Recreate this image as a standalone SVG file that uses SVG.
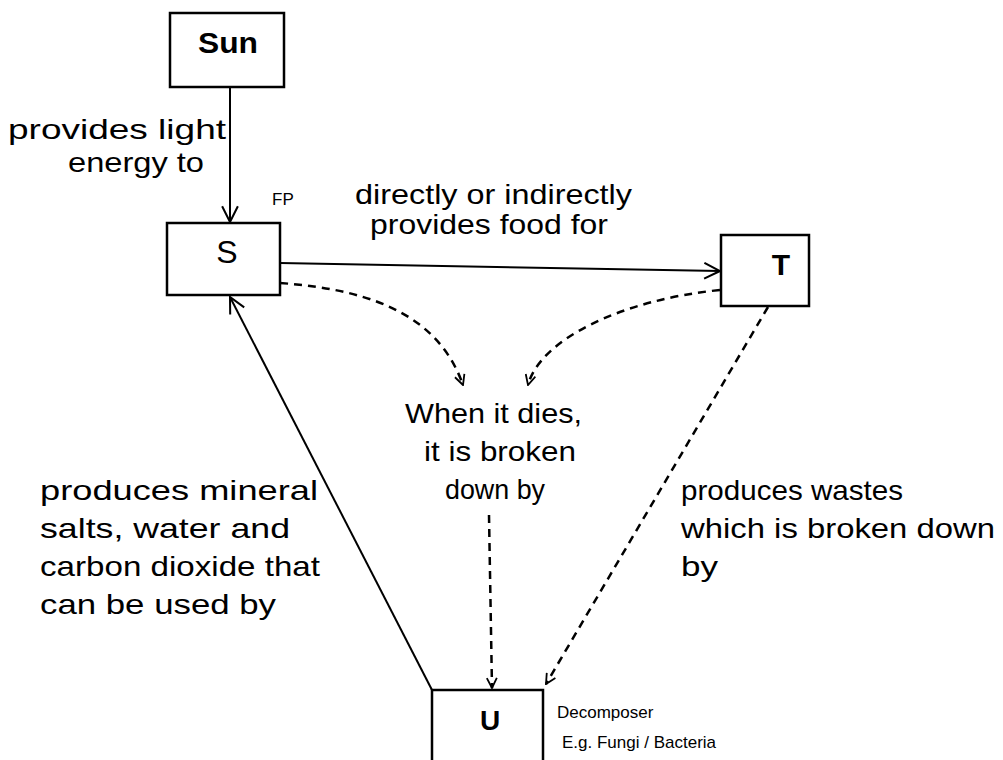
<svg xmlns="http://www.w3.org/2000/svg" width="1003" height="760" viewBox="0 0 1003 760">
<defs>
<style>
.box{fill:#fff;stroke:#000;stroke-width:2.5}
.lbl{font-family:"Liberation Sans",Arial,sans-serif;font-size:28px;fill:#000}
.nm{font-family:"Liberation Sans",Arial,sans-serif;font-weight:bold;fill:#000;text-anchor:middle}
.hw{font-family:"Liberation Sans",Arial,sans-serif;font-size:17px;fill:#000}
.ln{fill:none;stroke:#000;stroke-width:2}
.dash{fill:none;stroke:#000;stroke-width:2.5;stroke-dasharray:8,6}
</style>
<marker id="arr" viewBox="0 0 12 12" refX="11" refY="6" markerWidth="12" markerHeight="12" markerUnits="userSpaceOnUse" orient="auto">
<path d="M1,1 L11,6 L1,11" fill="none" stroke="#000" stroke-width="1.8"/>
</marker>
<marker id="arrL" viewBox="0 0 16 16" refX="15" refY="8" markerWidth="18" markerHeight="18" markerUnits="userSpaceOnUse" orient="auto">
<path d="M1,1 L15,8 L1,15" fill="none" stroke="#000" stroke-width="1.8"/>
</marker>
</defs>
<g id="connectors">
<line class="ln" x1="230" y1="87" x2="230" y2="222" marker-end="url(#arrL)"/>
<line class="ln" x1="280" y1="263" x2="720" y2="271" marker-end="url(#arrL)"/>
<path class="dash" d="M280,283 C380,290 440,320 463,385" marker-end="url(#arr)"/>
<path class="dash" d="M720,290 C620,300 540,340 528,385" marker-end="url(#arr)"/>
<path class="dash" d="M489,515 L492,688" marker-end="url(#arr)"/>
<path class="dash" d="M768,307 L546,684" marker-end="url(#arr)"/>
<line class="ln" x1="432" y1="690" x2="230" y2="297" marker-end="url(#arrL)"/>
</g>
<g id="sun"><rect class="box" x="170" y="13" width="114" height="74"/><text class="nm" x="228" y="53" font-size="29" textLength="60" lengthAdjust="spacingAndGlyphs">Sun</text></g>
<g id="s"><rect class="box" x="167" y="223" width="113" height="72"/><text class="nm" x="227" y="263" font-size="32" style="font-weight:normal">S</text></g>
<g id="t"><rect class="box" x="721" y="235" width="88" height="71"/><text class="nm" x="781" y="275" font-size="30">T</text></g>
<g id="u"><rect class="box" x="432" y="690" width="111" height="90"/><text class="nm" x="490" y="730" font-size="28">U</text></g>
<g id="labels">
<text class="lbl" x="8" y="139" textLength="218" lengthAdjust="spacingAndGlyphs">provides light</text>
<text class="lbl" x="68" y="172" textLength="136" lengthAdjust="spacingAndGlyphs">energy to</text>
<text class="hw" x="272" y="205">FP</text>
<text class="lbl" x="355" y="204" textLength="277" lengthAdjust="spacingAndGlyphs">directly or indirectly</text>
<text class="lbl" x="370" y="234" textLength="238" lengthAdjust="spacingAndGlyphs">provides food for</text>
<text class="lbl" x="405" y="423" textLength="177" lengthAdjust="spacingAndGlyphs">When it dies,</text>
<text class="lbl" x="424" y="461" textLength="152" lengthAdjust="spacingAndGlyphs">it is broken</text>
<text class="lbl" x="445" y="499" textLength="100" lengthAdjust="spacingAndGlyphs">down by</text>
<text class="lbl" x="40" y="500" textLength="278" lengthAdjust="spacingAndGlyphs">produces mineral</text>
<text class="lbl" x="40" y="538" textLength="250" lengthAdjust="spacingAndGlyphs">salts, water and</text>
<text class="lbl" x="40" y="576" textLength="280" lengthAdjust="spacingAndGlyphs">carbon dioxide that</text>
<text class="lbl" x="40" y="614" textLength="236" lengthAdjust="spacingAndGlyphs">can be used by</text>
<text class="lbl" x="681" y="500" textLength="222" lengthAdjust="spacingAndGlyphs">produces wastes</text>
<text class="lbl" x="681" y="538" textLength="314" lengthAdjust="spacingAndGlyphs">which is broken down</text>
<text class="lbl" x="681" y="576" textLength="37" lengthAdjust="spacingAndGlyphs">by</text>
<text class="hw" x="557" y="718">Decomposer</text>
<text class="hw" x="562" y="748">E.g. Fungi / Bacteria</text>
</g>
</svg>
